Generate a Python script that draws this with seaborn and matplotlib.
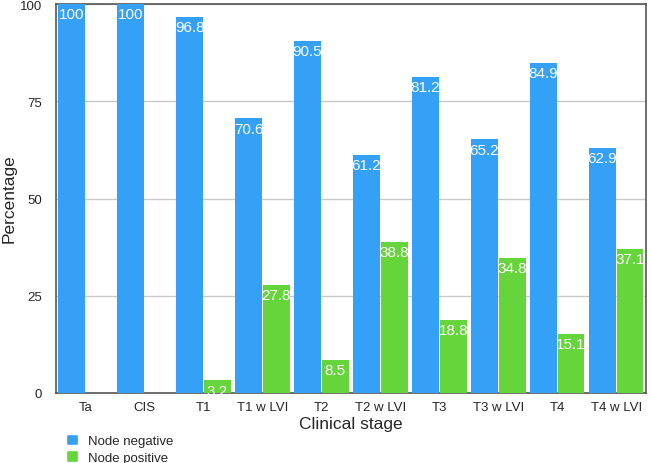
import seaborn as sns
import matplotlib.pyplot as plt
import pandas as pd
from matplotlib.patches import Patch

stages = ["Ta", "CIS", "T1", "T1 w LVI", "T2", "T2 w LVI", "T3", "T3 w LVI", "T4", "T4 w LVI"]
node_negative = [100, 100, 96.8, 70.6, 90.5, 61.2, 81.2, 65.2, 84.9, 62.9]
node_positive = [0, 0, 3.2, 27.8, 8.5, 38.8, 18.8, 34.8, 15.1, 37.1]
series = ["Node negative", "Node positive"]
colors = ["#35A1F6", "#66D43B"]

df = pd.DataFrame({
    "stage": stages * 2,
    "value": node_negative + node_positive,
    "group": [series[0]] * len(stages) + [series[1]] * len(stages),
})

sns.set_style("white")
plt.rcParams['font.family'] = ['Liberation Sans', 'DejaVu Sans']

fig = plt.figure(figsize=(6.51, 4.64), dpi=100)
ax = fig.add_axes([0.086, 0.151, 0.906, 0.838])

sns.barplot(data=df, x="stage", y="value", hue="group", palette=colors, saturation=1,
            width=0.94, gap=0.04, linewidth=0, legend=False, ax=ax, zorder=3)

# value labels inside top of each bar
for cont, vals in zip(ax.containers, [node_negative, node_positive]):
    for bar, v in zip(cont, vals):
        if v == 0:
            continue
        ax.text(bar.get_x() + bar.get_width() / 2, bar.get_height() - 0.8, f"{v:g}",
                ha="center", va="top", color="white", fontsize=11, zorder=4)

ax.set_ylim(0, 100)
ax.set_yticks([0, 25, 50, 75, 100])
ax.set_xlim(-0.5, len(stages) - 0.5)
ax.yaxis.grid(True, color="#c8c8c8", linewidth=1, zorder=0)
ax.set_axisbelow(True)
for s in ax.spines.values():
    s.set_color("#555555")
    s.set_linewidth(1.2)
ax.tick_params(axis="both", labelsize=9.5, length=0)
ax.tick_params(axis="x", pad=6)
ax.tick_params(axis="y", pad=10)
ax.set_xlabel("Clinical stage", fontsize=12.5, labelpad=2)
ax.set_ylabel("")
fig.text(9 / 651, 1 - 199 / 464, "Percentage", rotation=90, ha="center", va="center",
         fontsize=12.5)

handles = [Patch(facecolor=c, label=l) for c, l in zip(colors, series)]
fig.legend(handles=handles, loc="lower left", bbox_to_anchor=(0.095, -0.01),
           frameon=False, fontsize=9.5, handlelength=0.9, handleheight=1.0,
           handletextpad=0.8, labelspacing=0.25, borderaxespad=0.1, borderpad=0.2)

fig.savefig("out.png", dpi=100)
